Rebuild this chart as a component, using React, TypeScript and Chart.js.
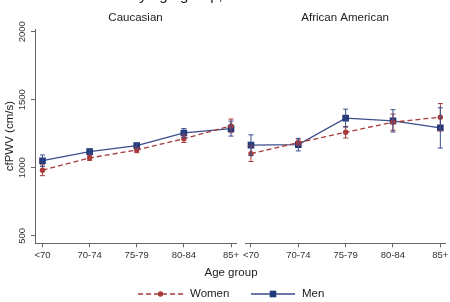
import React, { useEffect, useRef } from "react";
import { Chart, registerables } from "chart.js";

Chart.register(...registerables);

// Age groups shared by both panels
const AGE_GROUPS = ["<70", "70-74", "75-79", "80-84", "85+"];
const Y_TICKS = [500, 1000, 1500, 2000];

// Caucasian panel: mean cfPWV (cm/s) and half-width of the error bar
const CAU_WOMEN = [982, 1072, 1131, 1214, 1308];
const CAU_WOMEN_ERR = [40, 18, 20, 28, 50];
const CAU_MEN = [1052, 1119, 1163, 1256, 1288];
const CAU_MEN_ERR = [42, 20, 20, 32, 55];

// African American panel
const AA_WOMEN = [1104, 1185, 1261, 1335, 1372];
const AA_WOMEN_ERR = [58, 20, 42, 60, 100];
const AA_MEN = [1166, 1170, 1365, 1345, 1293];
const AA_MEN_ERR = [76, 46, 66, 82, 148];

const FONT = "'Liberation Sans', Arial, sans-serif";
const WOMEN_COLOR = "#a83a3a";
const MEN_COLOR = "#22397a";
const MEN_LINE = "#3b4d8c";
const AXIS_COLOR = "#666";
const TEXT_COLOR = "#222";

const W = 450;
const H = 302;

type Panel = {
  title: string;
  women: number[];
  womenErr: number[];
  men: number[];
  menErr: number[];
  xMin: number;
  xMax: number;
  padLeft: number;
  padRight: number;
  showY: boolean;
  overlay: boolean;
};

// Draws vertical error bars with caps, positioned through the chart's scales
const errorBarPlugin = {
  id: "errorBars",
  afterDatasetsDraw(chart: any) {
    const ctx = chart.ctx;
    const xs = chart.scales.x;
    const ys = chart.scales.y;
    chart.data.datasets.forEach((ds: any) => {
      const err: number[] = ds.errors;
      if (!err) return;
      ctx.save();
      ctx.strokeStyle = ds.errColor;
      ctx.lineWidth = 1;
      ds.data.forEach((pt: any, i: number) => {
        const x = xs.getPixelForValue(pt.x);
        const y1 = ys.getPixelForValue(pt.y - err[i]);
        const y2 = ys.getPixelForValue(pt.y + err[i]);
        ctx.beginPath();
        ctx.moveTo(x, y1);
        ctx.lineTo(x, y2);
        ctx.moveTo(x - 2.5, y1);
        ctx.lineTo(x + 2.5, y1);
        ctx.moveTo(x - 2.5, y2);
        ctx.lineTo(x + 2.5, y2);
        ctx.stroke();
      });
      ctx.restore();
    });
  },
};

// Shared headline, x-axis title and legend drawn across the full figure
const figureTextPlugin = {
  id: "figureText",
  afterDraw(chart: any) {
    const opts = chart.options.plugins.figureText;
    if (!opts || !opts.enabled) return;
    const ctx = chart.ctx;
    ctx.save();
    // headline (runs off the top edge, only descenders show)
    ctx.fillStyle = TEXT_COLOR;
    ctx.font = `15px ${FONT}`;
    ctx.textAlign = "left";
    ctx.textBaseline = "alphabetic";
    const headline = "Mean cfPWV by age group, sex and race";
    const before = ctx.measureText("Mean cfPWV b").width;
    const yw = ctx.measureText("y").width;
    ctx.fillText(headline, 143 - before - yw / 2, 0);

    // x-axis title
    ctx.font = `11.5px ${FONT}`;
    ctx.textAlign = "center";
    ctx.textBaseline = "middle";
    ctx.fillText("Age group", 231, 273);

    // legend
    const ly = 294;
    ctx.lineWidth = 1.3;
    ctx.strokeStyle = WOMEN_COLOR;
    ctx.setLineDash([5, 3]);
    ctx.beginPath();
    ctx.moveTo(138, ly);
    ctx.lineTo(183, ly);
    ctx.stroke();
    ctx.setLineDash([]);
    ctx.fillStyle = WOMEN_COLOR;
    ctx.beginPath();
    ctx.arc(160.5, ly, 2.7, 0, Math.PI * 2);
    ctx.fill();

    ctx.strokeStyle = MEN_LINE;
    ctx.beginPath();
    ctx.moveTo(251, ly);
    ctx.lineTo(295, ly);
    ctx.stroke();
    ctx.fillStyle = MEN_COLOR;
    ctx.fillRect(273 - 3.3, ly - 3.3, 6.6, 6.6);

    ctx.fillStyle = TEXT_COLOR;
    ctx.textAlign = "left";
    ctx.font = `11.5px ${FONT}`;
    ctx.fillText("Women", 190, ly);
    ctx.fillText("Men", 302, ly);
    ctx.restore();
  },
};

function toPoints(values: number[]) {
  return values.map((v, i) => ({ x: i, y: v }));
}

function buildConfig(p: Panel): any {
  return {
    type: "line",
    data: {
      datasets: [
        {
          label: "Women",
          data: toPoints(p.women),
          errors: p.womenErr,
          errColor: WOMEN_COLOR,
          borderColor: WOMEN_COLOR,
          backgroundColor: WOMEN_COLOR,
          borderWidth: 1.3,
          borderDash: [5, 3],
          pointStyle: "circle",
          pointRadius: 2.7,
          pointBorderWidth: 0,
          tension: 0,
        },
        {
          label: "Men",
          data: toPoints(p.men),
          errors: p.menErr,
          errColor: MEN_LINE,
          borderColor: MEN_LINE,
          backgroundColor: MEN_COLOR,
          borderWidth: 1.3,
          pointStyle: "rect",
          pointRadius: 4.7,
          pointBorderWidth: 0,
          tension: 0,
        },
      ],
    },
    options: {
      responsive: false,
      animation: false,
      events: [],
      layout: { padding: { left: p.padLeft, right: p.padRight, top: 0, bottom: 0 } },
      plugins: {
        legend: { display: false },
        tooltip: { enabled: false },
        title: {
          display: true,
          text: p.title,
          fullSize: false,
          color: TEXT_COLOR,
          font: { family: FONT, size: 11.5, weight: "normal", lineHeight: 1.2 },
          padding: { top: 11, bottom: 4.2 },
        },
        figureText: { enabled: p.overlay },
      },
      scales: {
        x: {
          type: "linear",
          min: p.xMin,
          max: p.xMax,
          afterBuildTicks: (s: any) => {
            s.ticks = AGE_GROUPS.map((_, i) => ({ value: i }));
          },
          afterFit: (s: any) => {
            s.height = H - 243.3;
            s.paddingLeft = 0;
            s.paddingRight = 0;
          },
          ticks: {
            autoSkip: false,
            maxRotation: 0,
            minRotation: 0,
            padding: 2,
            color: "#333",
            font: { family: FONT, size: 9.5 },
            callback: (v: number) => AGE_GROUPS[v] ?? "",
          },
          grid: {
            display: true,
            drawOnChartArea: false,
            drawTicks: true,
            tickLength: 4,
            color: AXIS_COLOR,
          },
          border: { display: true, color: AXIS_COLOR, width: 1 },
        },
        y: {
          type: "linear",
          display: p.showY,
          min: 445,
          max: 2020,
          afterBuildTicks: (s: any) => {
            s.ticks = Y_TICKS.map((v) => ({ value: v }));
          },
          afterFit: (s: any) => {
            s.width = p.showY ? 35 : 0;
            s.paddingTop = 0;
            s.paddingBottom = 0;
          },
          ticks: {
            minRotation: 90,
            maxRotation: 90,
            crossAlign: "center",
            padding: -2,
            color: "#333",
            font: { family: FONT, size: 9.5 },
            callback: (v: number) => String(v),
          },
          grid: {
            display: true,
            drawOnChartArea: false,
            drawTicks: true,
            tickLength: 4,
            color: AXIS_COLOR,
          },
          border: { display: true, color: AXIS_COLOR, width: 1 },
          title: {
            display: true,
            text: "cfPWV (cm/s)",
            color: TEXT_COLOR,
            font: { family: FONT, size: 11.5, lineHeight: 1.2 },
            padding: { top: 2.6, bottom: 0 },
          },
        },
      },
    },
    plugins: [errorBarPlugin, figureTextPlugin],
  };
}

const PANELS: Panel[] = [
  {
    title: "Caucasian",
    women: CAU_WOMEN,
    womenErr: CAU_WOMEN_ERR,
    men: CAU_MEN,
    menErr: CAU_MEN_ERR,
    xMin: -0.159,
    xMax: 4.106,
    padLeft: 0,
    padRight: W - 236,
    showY: true,
    overlay: false,
  },
  {
    title: "African American",
    women: AA_WOMEN,
    womenErr: AA_WOMEN_ERR,
    men: AA_MEN,
    menErr: AA_MEN_ERR,
    xMin: -0.126,
    xMax: 4.105,
    padLeft: 245,
    padRight: W - 446,
    showY: false,
    overlay: true,
  },
];

function PanelCanvas({ panel }: { panel: Panel }) {
  const ref = useRef<HTMLCanvasElement | null>(null);
  useEffect(() => {
    if (!ref.current) return;
    const chart = new Chart(ref.current, buildConfig(panel));
    return () => chart.destroy();
  }, [panel]);
  return (
    <canvas
      ref={ref}
      width={W}
      height={H}
      style={{ position: "absolute", left: 0, top: 0, width: W, height: H }}
    />
  );
}

export default function App() {
  return (
    <div
      style={{
        position: "fixed",
        left: 0,
        top: 0,
        width: W,
        height: H,
        background: "#fff",
        overflow: "hidden",
      }}
    >
      {PANELS.map((p) => (
        <PanelCanvas key={p.title} panel={p} />
      ))}
    </div>
  );
}
